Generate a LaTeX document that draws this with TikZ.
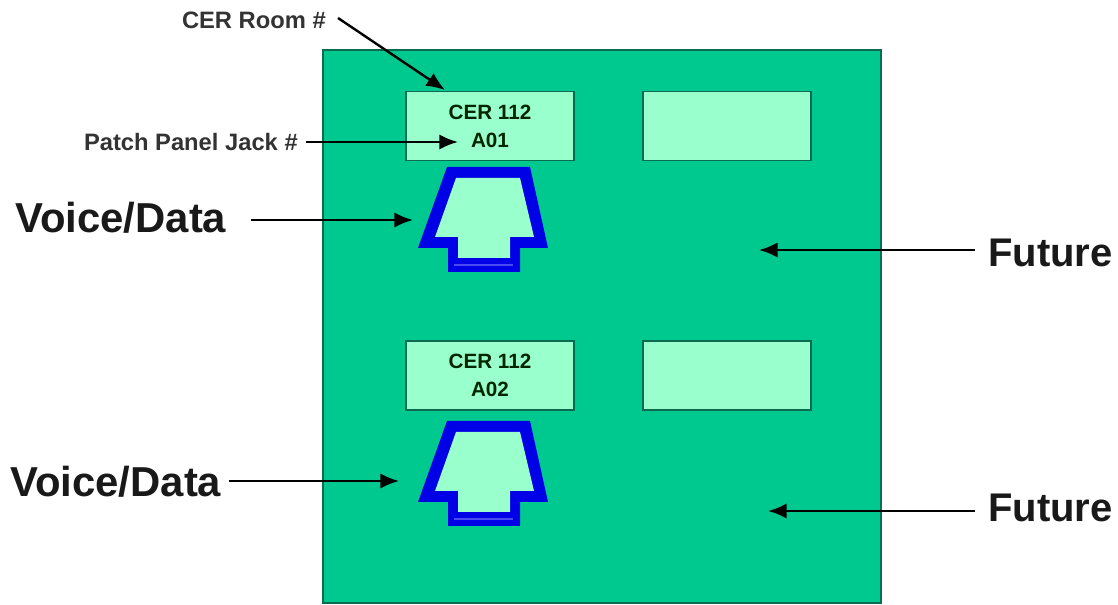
\documentclass[tikz,border=0pt]{standalone}
\usepackage{fontspec}
\setmainfont{Liberation Sans}
\usetikzlibrary{arrows.meta}
\definecolor{plategreen}{HTML}{00C98F}
\definecolor{platedge}{HTML}{0A6B50}
\definecolor{lightfill}{HTML}{99FFCC}
\definecolor{jackblue}{HTML}{0000E6}
\definecolor{jackline}{HTML}{4A4AF5}
\tikzset{
  x=0.75pt,y=-0.75pt,
  plate/.style={draw=platedge,line width=1pt,fill=plategreen},
  labelbox/.style={draw=platedge,line width=1.1pt,fill=lightfill,minimum width=126pt,minimum height=52pt,inner sep=0pt,align=center,font=\bfseries\fontsize{15.5}{21}\selectfont,text=black!85!green},
  smalllabel/.style={font=\bfseries\fontsize{17.8}{20}\selectfont,text=black!80,inner sep=0pt},
  voicelabel/.style={font=\bfseries\fontsize{31.4}{34}\selectfont,text=black!90,inner sep=0pt},
  futurelabel/.style={font=\bfseries\fontsize{30}{34}\selectfont,text=black!90,inner sep=0pt},
  pointer/.style={draw=black,line width=1.8pt,-{Latex[length=14pt,width=11.5pt]}},
  jackout/.style={fill=jackblue,draw=none},
  jackin/.style={fill=lightfill,draw=none},
}
\newcommand{\jackshape}[1]{%
  \begin{scope}[yshift=#1]
    \fill[jackout] (447,167) -- (530,167) -- (548,248) -- (520,248) -- (520,272) -- (448,272) -- (448,248) -- (418,248) -- cycle;
    \fill[jackin] (456,178) -- (520,178) -- (534,237) -- (510,237) -- (510,258) -- (458,258) -- (458,237) -- (435,237) -- cycle;
    \draw[jackline,line width=0.8pt] (454,265) -- (513,265);
  \end{scope}}
\begin{document}
\begin{tikzpicture}
\useasboundingbox (0,0) rectangle (1118,605);
\fill[white] (0,0) rectangle (1118,605);
\draw[plate] (323,50) rectangle (881,603);
\node[labelbox] (box1) at (490,126) {CER 112\\A01};
\node[labelbox] (box2) at (727,126) {};
\node[labelbox] (box3) at (490,375.5) {CER 112\\A02};
\node[labelbox] (box4) at (727,375.5) {};
\jackshape{0}
\jackshape{-190.5pt}
\node[smalllabel,anchor=east] (roomlabel) at (326,20) {CER Room \#};
\node[smalllabel,anchor=east] (jacklabel) at (298,142) {Patch Panel Jack \#};
\node[voicelabel,anchor=west] (voice1) at (15,218) {Voice/Data};
\node[voicelabel,anchor=west] (voice2) at (10,482) {Voice/Data};
\node[futurelabel,anchor=west] (future1) at (988,253) {Future};
\node[futurelabel,anchor=west] (future2) at (988,508) {Future};
\coordinate (roomstart) at (338,18);
\coordinate (roomend) at (445,90);
\coordinate (jackstart) at (306,142);
\coordinate (jackend) at (458,142);
\coordinate (v1start) at (251,220);
\coordinate (v1end) at (413,220);
\coordinate (v2start) at (229,481);
\coordinate (v2end) at (399,481);
\coordinate (f1start) at (975,250);
\coordinate (f1end) at (759,250);
\coordinate (f2start) at (975,511);
\coordinate (f2end) at (768,511);
\draw[pointer] (roomstart) -- (roomend);
\draw[pointer] (jackstart) -- (jackend);
\draw[pointer] (v1start) -- (v1end);
\draw[pointer] (v2start) -- (v2end);
\draw[pointer] (f1start) -- (f1end);
\draw[pointer] (f2start) -- (f2end);
\end{tikzpicture}
\end{document}
